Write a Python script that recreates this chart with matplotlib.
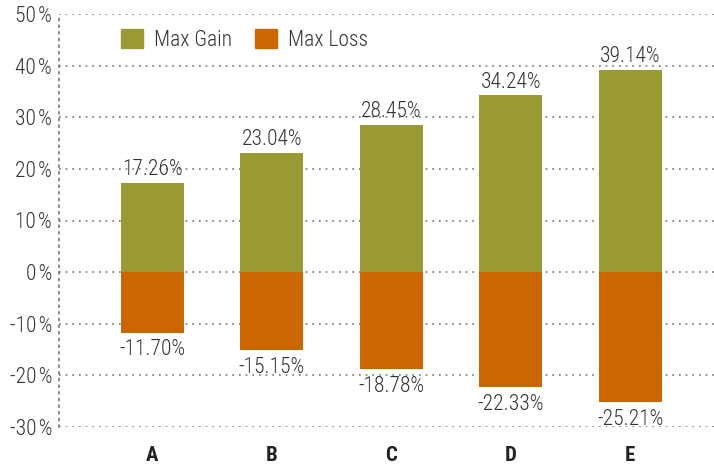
import matplotlib
matplotlib.use("Agg")
import matplotlib.pyplot as plt
from matplotlib import font_manager as fm
from matplotlib.patches import Patch

categories = ["A", "B", "C", "D", "E"]
max_gain = [17.26, 23.04, 28.45, 34.24, 39.14]
max_loss = [-11.70, -15.15, -18.78, -22.33, -25.21]
yticks = [-30, -20, -10, 0, 10, 20, 30, 40, 50]

names = {f.name for f in fm.fontManager.ttflist}
fam = None
for cand in ["Roboto Condensed", "Liberation Sans Narrow", "Open Sans Condensed", "Roboto", "DejaVu Sans"]:
    if cand in names:
        fam = cand
        break
plt.rcParams['font.family'] = [fam, 'DejaVu Sans']

gain_c = "#9A9A35"
loss_c = "#CC6600"
txt_c = "#333333"
fs = 15.5

fig = plt.figure(figsize=(7.14, 4.66), dpi=100)
ax = fig.add_axes([59/714, 1-427/466, (714-59)/714, (427-14)/466])

x = list(range(len(categories)))
w = 0.53
ax.bar(x, max_gain, width=w, color=gain_c, zorder=3)
ax.bar(x, max_loss, width=w, color=loss_c, zorder=3)

for xi, g, l in zip(x, max_gain, max_loss):
    ax.annotate(f"{g:.2f}%", (xi, g), xytext=(0, 2), textcoords="offset points",
                ha="center", va="bottom", fontsize=fs, color=txt_c, fontweight="light")
    ax.annotate(f"{l:.2f}%", (xi, l), xytext=(0, -5), textcoords="offset points",
                ha="center", va="top", fontsize=fs, color=txt_c, fontweight="light")

ax.set_xlim(-0.78, 4.70)
ax.set_ylim(-30, 50)
ax.set_yticks(yticks)
ax.set_yticklabels([f"{t}\u200a%" for t in yticks], fontsize=fs, color=txt_c, fontweight="light")
ax.set_xticks(x)
ax.set_xticklabels(categories, fontsize=15, fontweight="bold", color="#222222")
ax.tick_params(axis="both", length=0)
ax.tick_params(axis="x", pad=14)
ax.tick_params(axis="y", pad=5)

for s in ["top", "right", "bottom"]:
    ax.spines[s].set_visible(False)
ax.spines["left"].set_linestyle((0, (1, 3)))
ax.spines["left"].set_color("#777777")
ax.spines["left"].set_linewidth(1.2)

ax.yaxis.grid(True, linestyle=(0, (1, 3)), color="#777777", linewidth=1.2, zorder=0)
ax.set_axisbelow(True)

handles = [Patch(color=gain_c, label="Max Gain"), Patch(color=loss_c, label="Max Loss")]
leg = ax.legend(handles=handles, loc="upper left", bbox_to_anchor=(0.082, 0.985), ncol=2,
                frameon=False, handlelength=1.0, handleheight=1.0,
                handletextpad=0.5, columnspacing=1.1, borderaxespad=0,
                prop={'size': fs, 'weight': 'light'})
for t in leg.get_texts():
    t.set_color(txt_c)

fig.savefig("out.png", dpi=100)
